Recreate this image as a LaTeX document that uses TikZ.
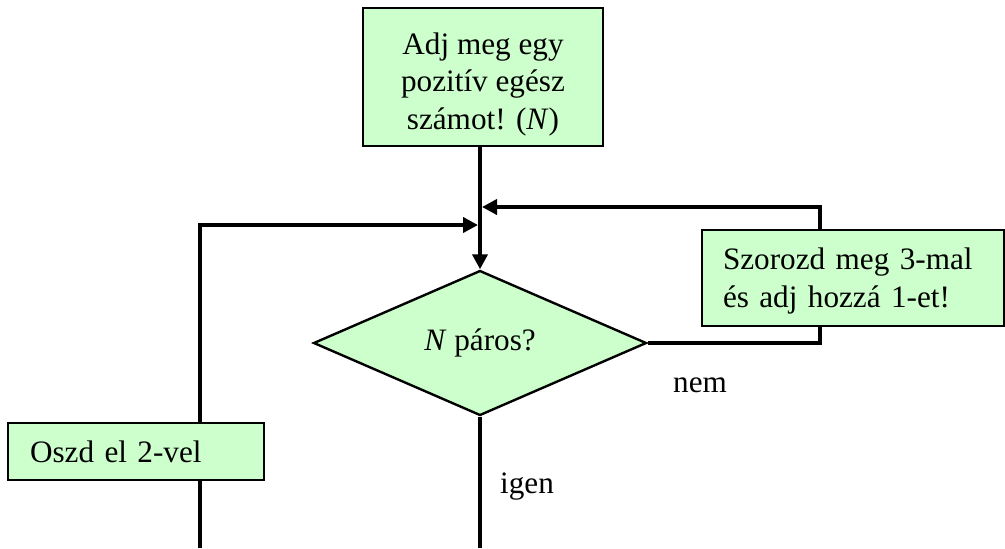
\documentclass[tikz,border=0pt]{standalone}
\usepackage{fontspec}
\setmainfont{Liberation Serif}
\usepackage{xcolor}
\usepackage{tikz}
\usetikzlibrary{positioning, arrows.meta, shapes.geometric, backgrounds}

\definecolor{boxgreen}{HTML}{CCFFCC}

\begin{document}
\begin{tikzpicture}[
  x=0.5pt, y=-0.5pt,
  every node/.style={font=\fontsize{15.6}{18.75}\selectfont},
  proc/.style={draw, line width=1.2pt, fill=boxgreen, inner sep=0pt},
  dec/.style={draw, diamond, line width=1.2pt, fill=boxgreen, inner sep=0pt,
    minimum width=166.5pt, minimum height=72.5pt},
  arrow/.style={-{Triangle[length=7.5pt, width=7.5pt]}, line width=2pt},
  line/.style={line width=2pt},
  lbl/.style={draw=none, inner sep=0pt}]

  \useasboundingbox (0,0) rectangle (1005,548);

  \node[proc, minimum width=120pt, minimum height=69pt, align=center] (ask) at (483,77)
    {\rule{0pt}{18pt}Adj meg egy\\pozitív egész\\számot! (\textit{N})};
  \node[dec] (even) at (480,343) {\textit{N} páros?};
  \node[proc, minimum width=151pt, minimum height=48pt, text width=130pt, align=left] (mul) at (853,278)
    {\rule{0pt}{14pt}Szorozd meg 3-mal\\és adj hozzá 1-et!};
  \node[proc, minimum width=128pt, minimum height=28.5pt, text width=106pt, align=left] (div) at (136,451.5)
    {Oszd el 2-vel};

  \coordinate (rjoin) at (820,207);
  \coordinate (ljoin) at (200,225);
  \coordinate (lbot) at (200,548);
  \coordinate (dbot) at (480,548);

  \node[lbl] (no) at (700,385) {nem};
  \node[lbl] (yes) at (527,487) {igen};

  \begin{scope}[on background layer]
    \draw[arrow] (ask.south -| even.north) -- (even.north);
    \draw[arrow] (even.east) -| (rjoin) -- ([xshift=1pt]even.north |- rjoin);
    \draw[arrow] (lbot) |- ([xshift=-1pt]even.north |- ljoin);
    \draw[line] (even.south) -- (dbot);
  \end{scope}
\end{tikzpicture}
\end{document}
